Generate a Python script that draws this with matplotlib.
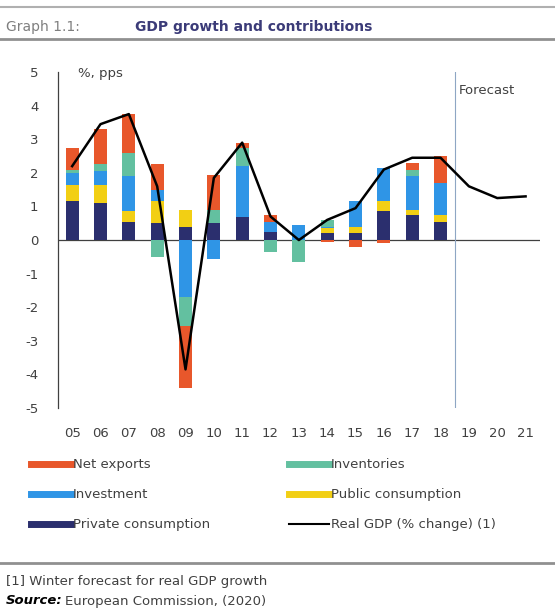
import numpy as np
import matplotlib.pyplot as plt
from matplotlib.lines import Line2D

plt.rcParams["axes.unicode_minus"] = False

years = ["05", "06", "07", "08", "09", "10", "11", "12", "13", "14", "15", "16", "17", "18", "19", "20", "21"]

# contributions (pps), 2005-2018
private_cons = [1.15, 1.1, 0.55, 0.5, 0.4, 0.5, 0.7, 0.25, 0.0, 0.2, 0.2, 0.85, 0.75, 0.55]
public_cons = [0.5, 0.55, 0.3, 0.65, 0.5, 0.0, 0.0, 0.0, 0.0, 0.15, 0.2, 0.3, 0.15, 0.2]
investment = [0.35, 0.4, 1.05, 0.35, -1.7, -0.55, 1.5, 0.3, 0.45, 0.05, 0.75, 1.0, 1.0, 0.95]
inventories = [0.1, 0.2, 0.7, -0.5, -0.85, 0.4, 0.55, -0.35, -0.65, 0.2, 0.0, 0.0, 0.2, 0.0]
net_exports = [0.65, 1.05, 1.15, 0.75, -1.85, 1.05, 0.15, 0.2, 0.0, -0.05, -0.2, -0.1, 0.2, 0.8]

# real GDP % change, 2005-2021
real_gdp = [2.2, 3.45, 3.75, 1.6, -3.85, 1.85, 2.9, 0.7, 0.0, 0.6, 0.95, 2.1, 2.45, 2.45, 1.6, 1.25, 1.3]

colors = {
    "Private consumption": "#2b2f6e",
    "Public consumption": "#f2cf14",
    "Investment": "#2f95e6",
    "Inventories": "#63c0a0",
    "Net exports": "#e8572b",
}

fig = plt.figure(figsize=(5.55, 6.13), dpi=100)
ax = fig.add_axes([0.1045, 0.3344, 0.868, 0.548])

series = [
    ("Private consumption", private_cons),
    ("Public consumption", public_cons),
    ("Investment", investment),
    ("Inventories", inventories),
    ("Net exports", net_exports),
]

x = np.arange(len(private_cons))
pos_base = np.zeros(len(x))
neg_base = np.zeros(len(x))
for name, vals in series:
    v = np.array(vals)
    pos = np.where(v > 0, v, 0)
    neg = np.where(v < 0, v, 0)
    ax.bar(x, pos, width=0.46, bottom=pos_base, color=colors[name], zorder=2)
    ax.bar(x, neg, width=0.46, bottom=neg_base, color=colors[name], zorder=2)
    pos_base += pos
    neg_base += neg

ax.plot(np.arange(len(years)), real_gdp, color="black", lw=1.8, zorder=3)

ax.axhline(0, color="#404040", lw=0.9, zorder=1)
ax.axvline(13.5, color="#8ea6c4", lw=0.8, zorder=1)

ax.set_xlim(-0.5, len(years) - 0.5)
ax.set_ylim(-5, 5)
ax.set_yticks(range(-5, 6))
ax.set_xticks(np.arange(len(years)))
ax.set_xticklabels(years)
ax.tick_params(axis="both", length=0, labelsize=9.5, labelcolor="#404040")
ax.tick_params(axis="x", pad=14)
ax.tick_params(axis="y", pad=14)
for s in ["top", "right", "bottom"]:
    ax.spines[s].set_visible(False)
ax.spines["left"].set_color("#404040")
ax.spines["left"].set_linewidth(0.9)

ax.text(0.2, 4.95, "%, pps", fontsize=9.5, color="#404040", va="center")
ax.text(13.65, 4.45, "Forecast", fontsize=9.5, color="#404040", va="center")

# legend
handles = [
    Line2D([], [], color=colors["Net exports"], lw=5),
    Line2D([], [], color=colors["Investment"], lw=5),
    Line2D([], [], color=colors["Private consumption"], lw=5),
    Line2D([], [], color=colors["Inventories"], lw=5),
    Line2D([], [], color=colors["Public consumption"], lw=5),
    Line2D([], [], color="black", lw=1.5),
]
labels = ["Net exports", "Investment", "Private consumption",
          "Inventories", "Public consumption", "Real GDP (% change) (1)"]
fig.legend(handles, labels, ncol=2, loc="upper left", bbox_to_anchor=(0.035, 0.272),
           frameon=False, fontsize=9.5, handlelength=3.0, handletextpad=0.15,
           columnspacing=6.0, labelspacing=1.3, labelcolor="#404040")

# header and footer
fig.add_artist(Line2D([0, 1], [1 - 7 / 613, 1 - 7 / 613], color="#b0b0b0", lw=1.5))
fig.add_artist(Line2D([0, 1], [1 - 39 / 613, 1 - 39 / 613], color="#909090", lw=2))
fig.text(0.01, 1 - 27 / 613, "Graph 1.1:", fontsize=10, color="#7f7f7f", va="center")
fig.text(0.243, 1 - 27 / 613, "GDP growth and contributions", fontsize=10, color="#3b3b78",
         fontweight="bold", va="center")

fig.add_artist(Line2D([0, 1], [1 - 563 / 613, 1 - 563 / 613], color="#909090", lw=2))
fig.text(0.01, 1 - 581 / 613, "[1] Winter forecast for real GDP growth", fontsize=9.5,
         color="#404040", va="center")
fig.text(0.01, 1 - 601 / 613, "Source:", fontsize=9.5, color="black", fontweight="bold",
         style="italic", va="center")
fig.text(0.118, 1 - 601 / 613, "European Commission, (2020)", fontsize=9.5,
         color="#404040", va="center")

fig.savefig("out.png", dpi=100, facecolor="white")
